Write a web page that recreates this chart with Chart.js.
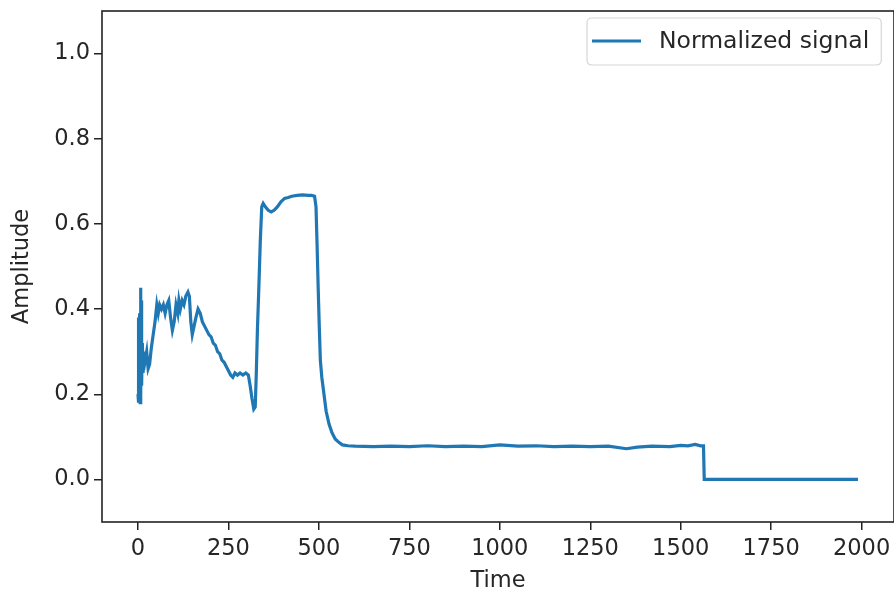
<!DOCTYPE html>
<html>
<head>
<meta charset="utf-8">
<script src="https://cdn.jsdelivr.net/npm/chart.js@4.4.1/dist/chart.umd.min.js"></script>
<style>
  html, body { margin: 0; padding: 0; background: #fff; }
  #wrap { width: 894px; height: 597px; position: relative; }
</style>
</head>
<body>
<div id="wrap"><canvas id="c" width="894" height="597"></canvas></div>
<script>
const seriesLabel = 'Normalized signal';
const xTitle = 'Time';
const yTitle = 'Amplitude';

const times = [0,1,2,3,4,5,6,7,8,9,10,12,14,17,20,24,28,32,37,42,47,52,56,60,65,70,75,80,85,90,95,100,105,110,113,117,122,127,132,138,142,146,150,155,160,166,172,178,184,190,196,202,208,214,220,226,232,238,244,250,256,262,268,275,282,290,298,305,310,315,320,324,327,330,334,338,342,346,352,360,368,376,385,395,405,415,425,440,455,470,480,488,492,495,498,501,504,508,514,520,528,536,545,555,565,580,600,650,700,750,800,850,900,950,1000,1050,1100,1150,1200,1250,1300,1350,1380,1420,1470,1500,1520,1540,1555,1563,1565,1700,1850,1990];
const values = [0.20,0.18,0.38,0.19,0.30,0.39,0.18,0.45,0.20,0.42,0.22,0.32,0.25,0.30,0.28,0.30,0.26,0.27,0.31,0.34,0.37,0.41,0.39,0.41,0.40,0.41,0.39,0.41,0.42,0.38,0.35,0.37,0.41,0.39,0.42,0.40,0.42,0.41,0.43,0.44,0.43,0.37,0.34,0.36,0.38,0.40,0.39,0.37,0.36,0.35,0.34,0.335,0.32,0.315,0.30,0.295,0.28,0.275,0.265,0.255,0.245,0.24,0.25,0.245,0.25,0.245,0.25,0.245,0.22,0.19,0.165,0.17,0.25,0.35,0.45,0.56,0.64,0.648,0.64,0.632,0.628,0.632,0.64,0.652,0.66,0.662,0.665,0.667,0.668,0.667,0.667,0.665,0.64,0.55,0.45,0.36,0.28,0.24,0.20,0.16,0.13,0.11,0.095,0.087,0.081,0.079,0.078,0.077,0.078,0.077,0.079,0.077,0.078,0.077,0.081,0.078,0.079,0.077,0.078,0.077,0.078,0.072,0.076,0.078,0.077,0.080,0.079,0.082,0.079,0.079,0.0,0.0,0.0,0.0];

const xTicks = [0,250,500,750,1000,1250,1500,1750,2000];
const yTicks = [0.0,0.2,0.4,0.6,0.8,1.0];

const FONT = 'DejaVu Sans';
const FS = 22.5;
const LFS = 23.5;
const TXT = '#262626';
const AX = '#222';
const LINE = '#1f77b4';

const points = times.map((t, i) => ({x: t, y: values[i]}));

const frame = {
  id: 'frame',
  afterDatasetsDraw(chart) {
    const a = chart.chartArea, ctx = chart.ctx;
    ctx.save();
    ctx.strokeStyle = AX;
    ctx.lineWidth = 1.6;
    ctx.strokeRect(a.left, a.top, a.right - a.left, a.bottom - a.top);
    const ds = chart.data.datasets[0];
    ctx.font = LFS + 'px "' + FONT + '"';
    const tw = ctx.measureText(ds.label).width;
    const bx = 587, by = 18, bh = 47;
    const bw = 72 + tw + 12;
    const r = 5;
    ctx.beginPath();
    ctx.moveTo(bx + r, by);
    ctx.lineTo(bx + bw - r, by); ctx.quadraticCurveTo(bx + bw, by, bx + bw, by + r);
    ctx.lineTo(bx + bw, by + bh - r); ctx.quadraticCurveTo(bx + bw, by + bh, bx + bw - r, by + bh);
    ctx.lineTo(bx + r, by + bh); ctx.quadraticCurveTo(bx, by + bh, bx, by + bh - r);
    ctx.lineTo(bx, by + r); ctx.quadraticCurveTo(bx, by, bx + r, by);
    ctx.closePath();
    ctx.fillStyle = 'rgba(255,255,255,0.8)';
    ctx.fill();
    ctx.strokeStyle = '#d6d6d6';
    ctx.lineWidth = 1.2;
    ctx.stroke();
    ctx.strokeStyle = ds.borderColor;
    ctx.lineWidth = 3.2;
    ctx.beginPath();
    ctx.moveTo(bx + 5, by + 23); ctx.lineTo(bx + 54, by + 23);
    ctx.stroke();
    ctx.fillStyle = TXT;
    ctx.textBaseline = 'middle';
    ctx.textAlign = 'left';
    ctx.fillText(ds.label, bx + 72, by + 24);
    ctx.restore();
  }
};

new Chart(document.getElementById('c'), {
  type: 'line',
  data: {
    datasets: [{
      label: seriesLabel,
      data: points,
      borderColor: LINE,
      backgroundColor: LINE,
      borderWidth: 3.2,
      pointRadius: 0,
      tension: 0,
      fill: false
    }]
  },
  options: {
    responsive: false,
    animation: false,
    devicePixelRatio: 1,
    layout: { padding: { top: 11, right: 0, left: 0, bottom: 0 } },
    plugins: { legend: { display: false }, tooltip: { enabled: false } },
    scales: {
      x: {
        type: 'linear',
        min: -99.5, max: 2089.5,
        afterBuildTicks(s) { s.ticks = xTicks.map(v => ({value: v})); },
        afterFit(s) { s.height = 75; s.paddingLeft = 0; s.paddingRight = 0; },
        grid: { drawOnChartArea: false, drawTicks: true, tickLength: 8, color: AX, lineWidth: 1.5 },
        border: { display: false },
        ticks: { color: TXT, font: { family: FONT, size: FS }, padding: 6, maxRotation: 0, autoSkip: false,
                 callback: v => String(v) },
        title: { display: true, text: xTitle, color: TXT, font: { family: FONT, size: FS }, padding: { top: 0, bottom: 2 } }
      },
      y: {
        type: 'linear',
        min: -0.1, max: 1.1,
        afterBuildTicks(s) { s.ticks = yTicks.map(v => ({value: v})); },
        afterFit(s) { s.width = 102; s.paddingTop = 0; s.paddingBottom = 0; },
        grid: { drawOnChartArea: false, drawTicks: true, tickLength: 8, color: AX, lineWidth: 1.5 },
        border: { display: false },
        ticks: { color: TXT, font: { family: FONT, size: FS }, padding: 4, autoSkip: false,
                 callback: v => Number(v).toFixed(1) },
        title: { display: true, text: yTitle, color: TXT, font: { family: FONT, size: FS }, padding: { top: 9, bottom: 0 } }
      }
    }
  },
  plugins: [frame]
});
</script>
</body>
</html>
